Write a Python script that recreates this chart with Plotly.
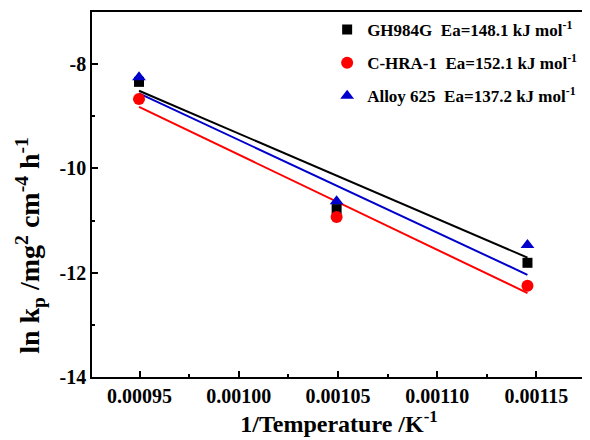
import plotly.graph_objects as go

# Data
inv_temp = [0.0009497, 0.0010493, 0.0011455]
gh984g = [-8.34, -10.78, -11.81]
chra1 = [-8.67, -10.93, -12.25]
alloy625 = [-8.25, -10.63, -11.47]

fit_x = [0.0009497, 0.0011455]
gh984g_fit = [-8.51, -11.71]
chra1_fit = [-8.82, -12.39]
alloy625_fit = [-8.56, -12.04]

names = ["GH984G\u00a0\u00a0Ea=148.1 kJ mol<sup>-1</sup>",
         "C-HRA-1\u00a0\u00a0Ea=152.1 kJ mol<sup>-1</sup>",
         "Alloy 625\u00a0\u00a0Ea=137.2 kJ mol<sup>-1</sup>"]

x_ticks = [0.00095, 0.00100, 0.00105, 0.00110, 0.00115]
x_tick_text = ["0.00095", "0.00100", "0.00105", "0.00110", "0.00115"]
y_ticks = [-14, -12, -10, -8]
y_tick_text = ["-14", "-12", "-10", "-8"]

BLACK = "#000000"
RED = "#ff0000"
BLUE = "#0000cc"
FONT = "Times New Roman, Liberation Serif, serif"

fig = go.Figure()
series = [(gh984g, gh984g_fit, BLACK, "square", 10),
          (chra1, chra1_fit, RED, "circle", 12),
          (alloy625, alloy625_fit, BLUE, "triangle-up", 12)]
for i, (vals, fit, col, sym, sz) in enumerate(series):
    fig.add_trace(go.Scatter(x=fit_x, y=fit, mode="lines",
                             line=dict(color=col, width=2),
                             showlegend=False, hoverinfo="skip"))
for i, (vals, fit, col, sym, sz) in enumerate(series):
    fig.add_trace(go.Scatter(x=inv_temp, y=vals, mode="markers", name=names[i],
                             legendgroup=str(i),
                             marker=dict(symbol=sym, size=sz, color=col,
                                         line=dict(width=0))))

axis_common = dict(showline=True, linecolor="black", linewidth=1.5, mirror=True,
                   ticks="inside", ticklen=6, tickwidth=1.5, tickcolor="black",
                   showgrid=False, zeroline=False,
                   tickfont=dict(family=FONT, size=20, color="black", weight="bold"))

fig.update_xaxes(range=[0.000926, 0.001175], tickvals=x_ticks, ticktext=x_tick_text,
                 minor=dict(ticks="inside", ticklen=3, tickwidth=1.5, tickcolor="black",
                            dtick=0.000025, tick0=0.00095),
                 title=dict(text="1/Temperature /K<sup>-1</sup>",
                            font=dict(family=FONT, size=24, color="black", weight="bold"),
                            standoff=4),
                 **axis_common)
fig.update_yaxes(range=[-14, -7], tickvals=y_ticks, ticktext=y_tick_text,
                 minor=dict(ticks="inside", ticklen=3, tickwidth=1.5, tickcolor="black",
                            dtick=1, tick0=-14),
                 **axis_common)

fig.add_annotation(text="ln k<sub>p</sub> /mg<sup>2</sup> cm<sup>-4</sup> h<sup>-1</sup>",
                   textangle=-90, xref="paper", yref="paper",
                   x=-0.125, y=0.36, xanchor="center", yanchor="middle", showarrow=False,
                   font=dict(family=FONT, size=28, color="black", weight="bold"))

fig.update_layout(width=582, height=432,
                  margin=dict(l=84, r=2, t=2, b=63),
                  plot_bgcolor="white", paper_bgcolor="white",
                  legend=dict(x=0.476, y=1.0, xanchor="left", yanchor="top",
                              bgcolor="rgba(0,0,0,0)", borderwidth=0,
                              tracegroupgap=8, traceorder="grouped",
                              font=dict(family=FONT, size=17, color="black", weight="bold")),
                  showlegend=True)

fig.write_html("out.html")
